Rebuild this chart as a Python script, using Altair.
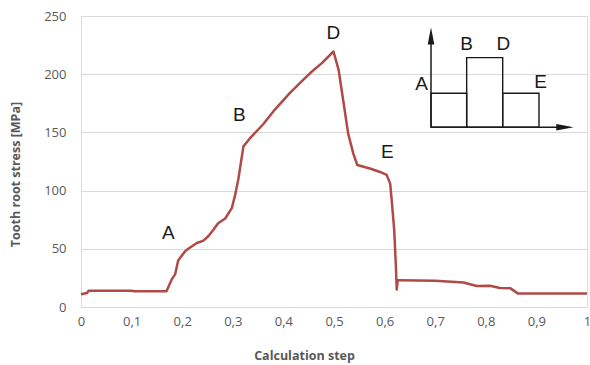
import altair as alt
import pandas as pd

# Main curve
step = [0, 0.012, 0.015, 0.10, 0.105, 0.169, 0.179, 0.186, 0.192, 0.206, 0.212,
        0.229, 0.242, 0.252, 0.262, 0.271, 0.285, 0.298, 0.304, 0.311, 0.321,
        0.334, 0.360, 0.380, 0.413, 0.433, 0.453, 0.476, 0.499, 0.509, 0.518,
        0.528, 0.538, 0.546, 0.571, 0.591, 0.604, 0.611, 0.614, 0.619, 0.622,
        0.624, 0.626, 0.63, 0.70, 0.756, 0.782, 0.808, 0.828, 0.848, 0.864, 1.0]
stress = [11, 12, 14, 14, 13.5, 13.5, 23.5, 28, 40, 48, 50,
          55, 57, 61, 66.5, 72, 76, 85, 95, 110, 138,
          145, 157, 168, 184, 192.5, 201, 209.5, 219.5, 204, 178,
          149, 132, 122, 119, 116, 113.5, 106, 92, 66, 38,
          15, 23, 23, 22.5, 21, 18, 18.3, 16.4, 16.2, 11.5, 11.5]

# Point labels on the curve
pt_labels = ["A", "B", "D", "E"]
pt_x = [0.1725, 0.313, 0.4987, 0.6054]
pt_y = [63.3, 165, 235, 133.4]

# Inset schematic (in chart units)
inset_left = [0.6917, 0.7622, 0.8334]
inset_right = [0.7622, 0.8334, 0.9051]
inset_top = [183.6, 214.2, 183.6]
inset_base = 154.4
inset_axis_x = [0.6917, 0.6917]
inset_axis_x2 = [0.6917, 0.958]
inset_axis_y = [154.4, 154.4]
inset_axis_y2 = [232.0, 154.4]
inset_lbl = ["A", "B", "D", "E"]
inset_lbl_x = [0.6733, 0.7622, 0.8346, 0.9085]
inset_lbl_y = [191.6, 226.2, 226.2, 193.6]
arrow_x = [0.6917, 0.9565]
arrow_y = [232.9, 154.4]
arrow_shape = ["M0,-1L0.38,1L-0.38,1Z", "M1,0L-1,-0.38L-1,0.38Z"]

x_ticks = [0, 0.1, 0.2, 0.3, 0.4, 0.5, 0.6, 0.7, 0.8, 0.9, 1.0]
y_ticks = [0, 50, 100, 150, 200, 250]

curve = pd.DataFrame({"step": step, "stress": stress})
pts = pd.DataFrame({"label": pt_labels, "x": pt_x, "y": pt_y})
rects = pd.DataFrame({"x": inset_left, "x2": inset_right, "y": [inset_base] * 3, "y2": inset_top})
axes_df = pd.DataFrame({"x": inset_axis_x, "x2": inset_axis_x2, "y": inset_axis_y, "y2": inset_axis_y2})
ilbl = pd.DataFrame({"label": inset_lbl, "x": inset_lbl_x, "y": inset_lbl_y})
arrows = pd.DataFrame({"x": arrow_x, "y": arrow_y, "shape": arrow_shape})

grey = "#595959"
font = "Open Sans"

xscale = alt.Scale(domain=[0, 1], nice=False)
yscale = alt.Scale(domain=[0, 250], nice=False)

xaxis = alt.Axis(
    title="Calculation step", values=x_ticks, grid=False, domain=False, ticks=False,
    labelExpr="datum.value == 0 ? '0' : datum.value == 1 ? '1' : replace(format(datum.value, '.1f'), '.', ',')",
    labelFont=font, labelFontSize=13, labelColor=grey, labelPadding=8, labelFlush=False,
    titleFont=font, titleFontSize=12.5, titleFontWeight="bold", titleColor=grey,
    titleX=223, titleY=48, titleBaseline="middle", titleAlign="center",
)
yaxis = alt.Axis(
    title="Tooth root stress [MPa]", values=y_ticks, grid=True, gridColor="#D9D9D9",
    domain=False, ticks=False, labelFont=font, labelFontSize=13, labelColor=grey,
    labelPadding=15, titleFont=font, titleFontSize=12.5, titleFontWeight="bold",
    titleColor=grey, titleX=-66, titleY=158, titleBaseline="middle", titleAlign="center",
)

line = alt.Chart(curve).mark_line(color="#B04A46", strokeWidth=2.5, strokeJoin="round").encode(
    x=alt.X("step:Q", scale=xscale, axis=xaxis),
    y=alt.Y("stress:Q", scale=yscale, axis=yaxis),
)

labels = alt.Chart(pts).mark_text(font="Liberation Sans", fontSize=19, color="#1a1a1a").encode(
    x=alt.X("x:Q", scale=xscale), y=alt.Y("y:Q", scale=yscale), text="label:N"
)

boxes = alt.Chart(rects).mark_rect(fill=None, fillOpacity=0, stroke="#1a1a1a", strokeWidth=1.4).encode(
    x=alt.X("x:Q", scale=xscale), x2="x2", y=alt.Y("y:Q", scale=yscale), y2="y2"
)

inset_axes = alt.Chart(axes_df).mark_rule(color="#1a1a1a", strokeWidth=1.5).encode(
    x=alt.X("x:Q", scale=xscale), x2="x2", y=alt.Y("y:Q", scale=yscale), y2="y2"
)

heads = alt.Chart(arrows).mark_point(filled=True, color="#1a1a1a", opacity=1, size=300).encode(
    x=alt.X("x:Q", scale=xscale), y=alt.Y("y:Q", scale=yscale),
    shape=alt.Shape("shape:N", scale=None, legend=None),
)

inset_labels = alt.Chart(ilbl).mark_text(font="Liberation Sans", fontSize=19, color="#1a1a1a").encode(
    x=alt.X("x:Q", scale=xscale), y=alt.Y("y:Q", scale=yscale), text="label:N"
)

chart = alt.layer(line, labels, boxes, inset_axes, heads, inset_labels).properties(
    width=506, height=291,
    padding={"left": 81, "top": 16, "right": 3, "bottom": 58},
    autosize=alt.AutoSizeParams(type="none"),
).configure_view(stroke=None).configure(background="white")

chart.save("out.html", embed_options={"renderer": "svg", "actions": False})
